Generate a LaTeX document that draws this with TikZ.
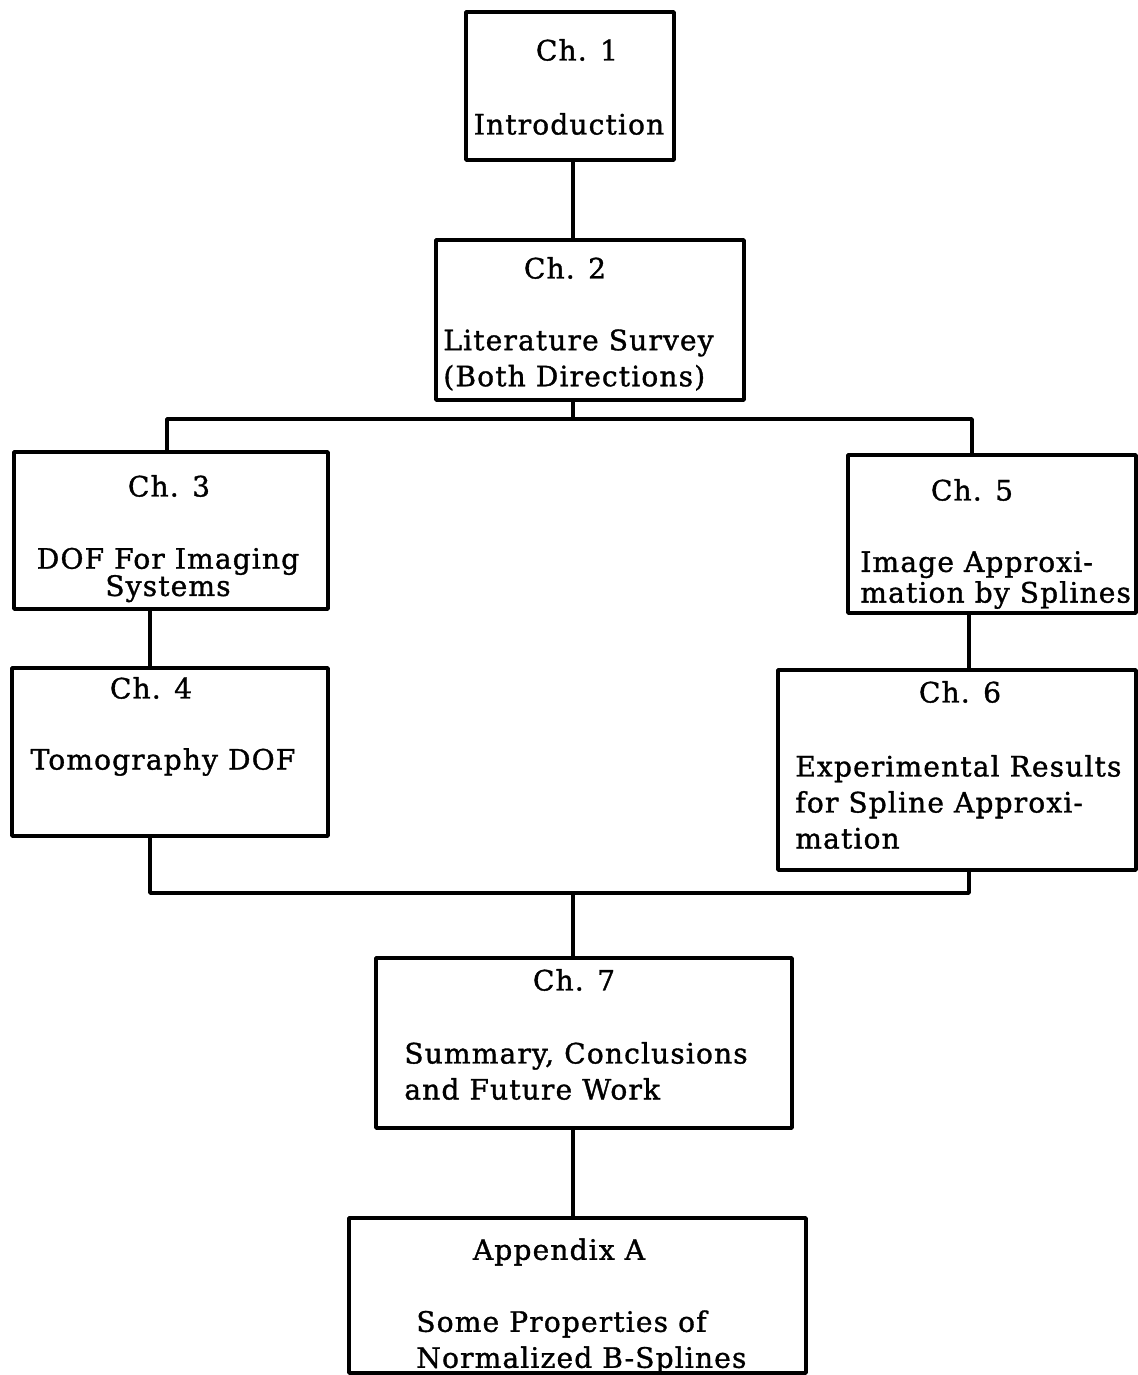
\documentclass[tikz,border=0pt]{standalone}
\usepackage{fontspec}
\setmainfont{DejaVu Serif}[LetterSpace=4,FakeBold=1.2]
\begin{document}
\begin{tikzpicture}[x=0.02cm,y=-0.02cm,line join=round,line cap=round,
		font=\fontsize{16}{20.5}\selectfont,
		chapbox/.style={draw,line width=2.1pt,rectangle,inner sep=0pt,outer sep=0pt},
		txt/.style={inner sep=0pt,align=left}]
	\useasboundingbox (0,0) rectangle (1138,1375);
	% boxes
	\node[chapbox,minimum width=4.16cm,minimum height=2.96cm] (ch1) at (570,86) {};
	\node[chapbox,minimum width=6.16cm,minimum height=3.2cm] (ch2) at (590,320) {};
	\node[chapbox,minimum width=6.28cm,minimum height=3.14cm] (ch3) at (171,530.5) {};
	\node[chapbox,minimum width=5.76cm,minimum height=3.16cm] (ch5) at (992,534) {};
	\node[chapbox,minimum width=6.32cm,minimum height=3.36cm] (ch4) at (170,752) {};
	\node[chapbox,minimum width=7.16cm,minimum height=4cm] (ch6) at (957,770) {};
	\node[chapbox,minimum width=8.32cm,minimum height=3.4cm] (ch7) at (584,1043) {};
	\node[chapbox,minimum width=9.14cm,minimum height=3.1cm] (appA) at (577.5,1295.5) {};
	% texts
	\node[txt] (t1a) at (577,50) {Ch. 1};
	\node[txt] (t1b) at (569,124) {Introduction};
	\node[txt] (t2a) at (565,268) {Ch. 2};
	\node[txt,anchor=west] (t2b) at (443,360) {Literature Survey\\(Both Directions)};
	\node[txt] (t3a) at (169,486) {Ch. 3};
	\node[txt,align=center] (t3b) at (168,575) {DOF For Imaging\\[-5pt]Systems};
	\node[txt] (t5a) at (972,490) {Ch. 5};
	\node[txt,anchor=west] (t5b) at (860,580) {Image Approxi-\\[-3pt]mation by Splines};
	\node[txt] (t4a) at (151,688) {Ch. 4};
	\node[txt] (t4b) at (163,762) {Tomography DOF};
	\node[txt] (t6a) at (960,692) {Ch. 6};
	\node[txt,anchor=west] (t6b) at (795,802) {Experimental Results\\for Spline Approxi-\\mation};
	\node[txt] (t7a) at (574,980) {Ch. 7};
	\node[txt,anchor=west] (t7b) at (404,1071) {Summary, Conclusions\\and Future Work};
	\node[txt] (tAa) at (559,1252) {Appendix A};
	\node[txt,anchor=west] (tAb) at (416,1342) {Some Properties of\\Normalized B-Splines};
	% connectors
	\coordinate (spine) at (573,0);
	\coordinate (splitL) at (167,419);
	\coordinate (splitR) at (972,419);
	\coordinate (mergeL) at (150,893);
	\coordinate (mergeR) at (969,893);
	\begin{scope}[line width=2.1pt]
		\draw (spine |- ch1.south) -- (spine |- ch2.north);
		\draw (spine |- ch2.south) -- (spine |- splitL);
		\draw (ch3.north -| splitL) -- (splitL) -- (splitR) -- (ch5.north -| splitR);
		\draw (ch3.south -| mergeL) -- (ch4.north -| mergeL);
		\draw (ch5.south -| mergeR) -- (ch6.north -| mergeR);
		\draw (ch4.south -| mergeL) -- (mergeL) -- (mergeR) -- (ch6.south -| mergeR);
		\draw (spine |- mergeL) -- (spine |- ch7.north);
		\draw (spine |- ch7.south) -- (spine |- appA.north);
	\end{scope}
\end{tikzpicture}
\end{document}
